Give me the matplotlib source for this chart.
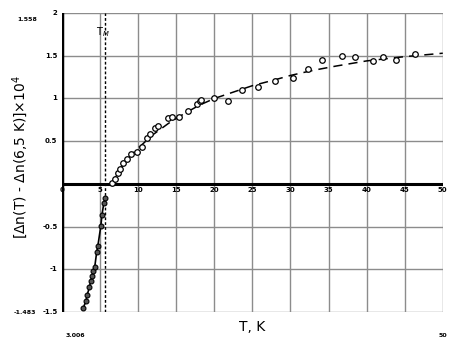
import numpy as np
import matplotlib.pyplot as plt

# low-temperature branch (filled markers, solid line)
t_low = [2.8, 3.15, 3.3, 3.6, 3.75, 3.95, 4.1, 4.3, 4.55, 4.7, 5.1, 5.25, 5.5, 5.7]
dn_low = [-1.45, -1.37, -1.30, -1.21, -1.14, -1.08, -1.02, -0.97, -0.80, -0.73, -0.49, -0.36, -0.22, -0.16]

# high-temperature branch (open circles)
t_high = [6.5, 6.95, 7.4, 7.6, 8.05, 8.5, 9.1, 9.8, 10.45, 11.1, 11.55, 12.2, 12.65,
          13.95, 14.4, 15.3, 16.6, 17.7, 18.1, 18.3, 19.9, 21.8, 23.6, 25.8, 27.95,
          30.35, 32.3, 34.1, 36.8, 38.45, 40.85, 42.2, 43.9, 46.3]
dn_high = [0.015, 0.055, 0.13, 0.18, 0.25, 0.29, 0.355, 0.37, 0.43, 0.54, 0.59, 0.66, 0.68,
           0.77, 0.785, 0.78, 0.85, 0.93, 0.97, 0.98, 1.01, 0.97, 1.10, 1.13, 1.21,
           1.24, 1.34, 1.45, 1.50, 1.48, 1.44, 1.48, 1.45, 1.52]

# fitted curve (dashed)
t_fit = [6.5, 7, 8, 9, 10, 12, 14, 16, 18, 20, 22, 25, 28, 30, 33, 36, 40, 45, 50]
dn_fit = [0.0, 0.08, 0.22, 0.33, 0.42, 0.58, 0.71, 0.82, 0.92, 1.0, 1.06, 1.15, 1.22,
          1.27, 1.33, 1.38, 1.44, 1.49, 1.53]

t_m = 5.6
x_ticks = [0, 5, 10, 15, 20, 25, 30, 35, 40, 45, 50]
y_ticks = [2, 1.5, 1, 0.5, -0.5, -1, -1.5]
y_tick_labels = ["2", "1.5", "1", "0.5", "-0.5", "-1", "-1.5"]

fig = plt.figure(figsize=(4.56, 3.48), dpi=100)
ax = fig.add_axes([0.136, 0.1034, 0.835, 0.859])
ax.set_xlim(0, 50)
ax.set_ylim(-1.5, 2)

for x in x_ticks:
    ax.axvline(x, color='#8c8c8c', lw=1.0, zorder=0)
for y in y_ticks:
    ax.axhline(y, color='#8c8c8c', lw=1.0, zorder=0)
ax.axhline(0, color='black', lw=2.2, zorder=1)
ax.axvline(0, color='black', lw=2.5, zorder=1)
ax.axvline(t_m, color='black', lw=1.0, ls=(0, (2, 1.5)), zorder=1)

ax.plot(t_low, dn_low, color='black', lw=1.2, marker='o', ms=3.5,
        mfc='#555555', mec='black', mew=0.8, zorder=3)
ax.plot(t_fit, dn_fit, color='black', lw=1.1, ls=(0, (6, 4)), zorder=2)
ax.plot(t_high, dn_high, ls='none', marker='o', ms=4, mfc='white',
        mec='black', mew=0.9, zorder=3)

for s in ax.spines.values():
    s.set_visible(False)
ax.set_xticks([])
ax.set_yticks([])

for x in x_ticks:
    ax.text(x, -0.04, str(x), ha='center', va='top', fontsize=5, fontweight='bold')
for y, lab in zip(y_ticks, y_tick_labels):
    ax.text(-0.6, y, lab, ha='right', va='center', fontsize=5, fontweight='bold')

ax.text(t_m - 0.3, 1.7, "T$_M$", ha='center', va='bottom', fontsize=7)

ax.text(-3.3, 1.93, "1.558", ha='right', va='center', fontsize=4.5, fontweight='bold')
ax.text(-3.4, -1.5, "-1.483", ha='right', va='center', fontsize=4.5, fontweight='bold')
ax.text(0.5, -1.78, "3.006", ha='left', va='center', fontsize=4.5, fontweight='bold')
ax.text(49.5, -1.78, "50", ha='left', va='center', fontsize=4.5, fontweight='bold')

ax.set_xlabel("T, K", fontsize=10, labelpad=6)
fig.text(0.045, 0.55, "[Δn(T) - Δn(6,5 K)]×10$^4$", rotation=90,
         ha='center', va='center', fontsize=10)

fig.savefig("out.png", dpi=100)
